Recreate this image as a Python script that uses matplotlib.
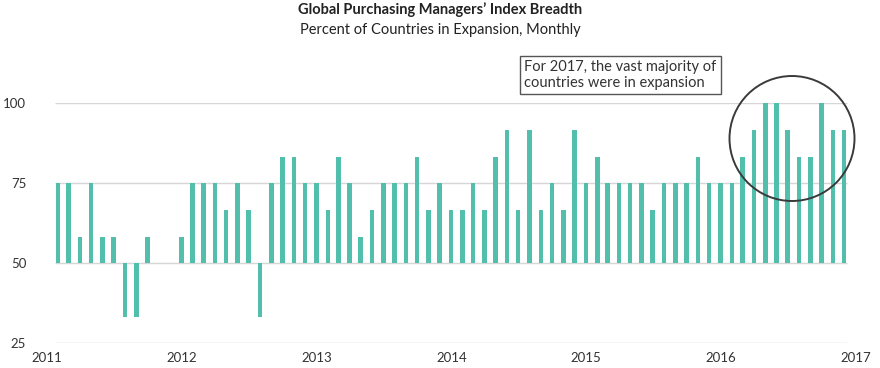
import matplotlib
matplotlib.use("Agg")
import matplotlib.pyplot as plt
import matplotlib.patches as mpatches
import pandas as pd
import numpy as np

plt.rcParams['font.family'] = ['Lato', 'DejaVu Sans']

# Data: percent of countries in expansion, monthly (Jan 2011 - Nov 2016)
months = pd.date_range("2011-01-31", "2016-11-30", freq="ME")
values = [
    # 2011
    75, 75, 58.3, 75, 58.3, 58.3, 33.3, 33.3, 58.3, 50, 50, 58.3,
    # 2012
    75, 75, 75, 66.7, 75, 66.7, 33.3, 75, 83.3, 83.3, 75, 75,
    # 2013
    66.7, 83.3, 75, 58.3, 66.7, 75, 75, 75, 83.3, 66.7, 75, 66.7,
    # 2014
    66.7, 75, 66.7, 83.3, 91.7, 66.7, 91.7, 66.7, 75, 66.7, 91.7, 75,
    # 2015
    83.3, 75, 75, 75, 75, 66.7, 75, 75, 75, 83.3, 75, 75,
    # 2016
    75, 83.3, 91.7, 100, 100, 91.7, 83.3, 83.3, 100, 91.7, 91.7,
]
baseline = 50
y_ticks = [25, 50, 75, 100]
year_ticks = pd.date_range("2011-01-01", "2017-01-01", freq="YS")
year_labels = [str(d.year) for d in year_ticks]

title = "Global Purchasing Managers\u2019 Index Breadth"
subtitle = "Percent of Countries in Expansion, Monthly"
note = "For 2017, the vast majority of\ncountries were in expansion"

W, H = 880, 368
fig = plt.figure(figsize=(W / 100, H / 100), dpi=100)
ax = fig.add_axes([47 / W, (H - 343.3) / H, (856 - 47) / W, (343.3 - 103.3) / H])

bar_color = "#52bfad"
heights = [v - baseline for v in values]
ax.bar(months, heights, bottom=baseline, width=12.5, color=bar_color, zorder=3)

ax.set_xlim(year_ticks[0], year_ticks[-1])
ax.set_ylim(25, 100)

# horizontal gridlines spanning the bar range
x0 = months[0] - pd.Timedelta(days=7)
x1 = months[-1] + pd.Timedelta(days=7)
ax.hlines(y_ticks, x0, x1, colors="#d6d6d6", linewidth=1.0, zorder=1)

for s in ax.spines.values():
    s.set_visible(False)
ax.set_yticks(y_ticks)
ax.set_yticklabels([str(t) for t in y_ticks])
ax.set_xticks(year_ticks)
ax.set_xticklabels(year_labels)
ax.tick_params(axis="both", length=0, labelsize=9.5, colors="#333333")
ax.tick_params(axis="y", pad=15)
ax.tick_params(axis="x", pad=6)

fig.text(0.5, 1 - 10 / H, title, ha="center", va="center", fontsize=10.5,
         fontweight="bold", color="#222222")
fig.text(0.5, 1 - 30 / H, subtitle, ha="center", va="center", fontsize=10.5,
         color="#222222")

# annotation box
fig.text(524 / W, 1 - 75 / H, note, ha="left", va="center", fontsize=10.5,
         color="#333333", linespacing=1.15,
         bbox=dict(boxstyle="square,pad=0.3", fc="white", ec="#555555", lw=1.0))

# circle highlight
circ = mpatches.Ellipse((792 / W, 1 - 138.5 / H), 125 / W, 125 / H,
                        transform=fig.transFigure, fill=False,
                        ec="#3a3a3a", lw=1.4, zorder=5)
fig.patches.append(circ)

fig.savefig("out.png", dpi=100)
